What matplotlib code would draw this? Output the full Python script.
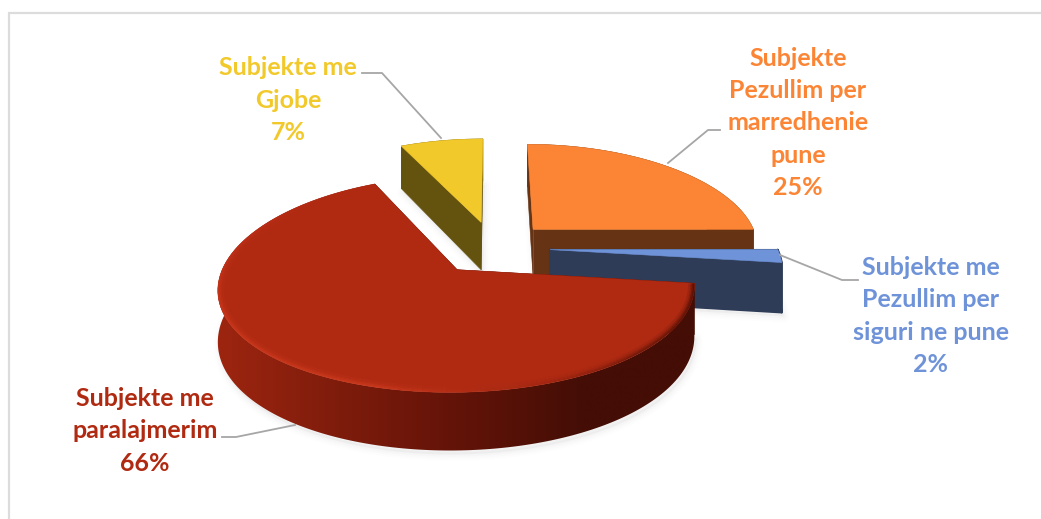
import numpy as np
import matplotlib
matplotlib.use("Agg")
import matplotlib.pyplot as plt
from matplotlib.collections import LineCollection
from matplotlib.colors import to_rgb, LinearSegmentedColormap
from matplotlib.patches import Polygon

# ---- data ----
names = ["Subjekte\nPezullim per\nmarredhenie\npune",
         "Subjekte me\nPezullim per\nsiguri ne pune",
         "Subjekte me\nparalajmerim",
         "Subjekte me\nGjobe"]
values = [25, 2, 66, 7]

# ---- style ----
explode = [0.27, 0.26, 0.26, 0.27]
nudge_x = [-4.0, -4.0, -2.0, -1.0]
top_cols = ["#fb8535", "#6f93d8", "#b02a12", "#f2c92b"]
wall_cols = ["#663314", "#2e3c58", "#5a1208", "#64520f"]
label_cols = ["#fb8535", "#6f93d8", "#b02a12", "#f2c92b"]
label_pos = [(798, 123), (931, 316), (145, 431), (288, 100)]
leaders = [[(720, 130), (708, 130), (668, 163)],
           [(858, 280), (842, 280), (780, 255)],
           [(222, 437), (236, 437), (295, 425)],
           [(362, 73), (382, 73), (441, 138)]]
draw_order = [3, 0, 1, 2]
CX, CY, A, B, KX, KY, D = 495.0, 248.0, 227.0, 100.5, 0.16, 0.13, 49.0


def project(u, v, z=0.0):
    wx = 1 + KX * v
    wy = 1 + KY * v
    return CX + A * u / wx, CY - B * v / wy + D * z / wy


def rim(i, a0, a1, n=240):
    t = np.radians(np.linspace(a0, a1, n))
    mid = np.radians((a0 + a1) / 2)
    uo, vo = explode[i] * np.sin(mid), explode[i] * np.cos(mid)
    return uo + np.sin(t), vo + np.cos(t), uo, vo, np.degrees(t)


fig = plt.figure(figsize=(10.41, 5.19), dpi=100, facecolor="white")
ax = fig.add_axes([0, 0, 1, 1])
plt.rcParams["font.family"] = ["Lato", "DejaVu Sans"]

# chart frame
ax.plot([8.5, 8.5, 1041], [519, 12.5, 12.5], color="#dcdcdc", lw=1.6, solid_joinstyle="miter")

shares = np.array(values, float) / sum(values) * 360
ends = np.cumsum(shares)
starts = ends - shares
wall_map = LinearSegmentedColormap.from_list("wall", [(0.0, "#a02610"), (0.27, "#7e1c0c"), (0.48, "#661409"),
                                                      (0.62, "#561107"), (0.76, "#440e06"), (1.0, "#440d05")])

for order, i in enumerate(draw_order):
    a0, a1 = starts[i], ends[i]
    us, vs, uo, vo, deg = rim(i, a0, a1)
    tx, ty = project(us, vs, 0)
    bx, by = project(us, vs, 1)
    ax_, ay_ = project(uo, vo, 0)
    ex_, ey_ = project(uo, vo, 1)
    tx, bx, ax_, ex_ = tx + nudge_x[i], bx + nudge_x[i], ax_ + nudge_x[i], ex_ + nudge_x[i]

    # soft drop shadow
    sx, sy = np.r_[ex_, bx], np.r_[ey_, by]
    for lw, al in [(9, .012), (6, .02), (3, .03)]:
        ax.fill(sx + 2, sy + 4, facecolor="#909090", edgecolor="#909090", alpha=al, lw=lw,
                joinstyle="round", zorder=1)

    z = 2 + order
    wall_poly = np.c_[np.r_[tx, bx[::-1]], np.r_[ty, by[::-1]]]
    # rim wall
    if i == 2:
        grad = np.linspace(0, 1, 512)[None, :]
        im = ax.imshow(grad, extent=(205, 700, 519, 0), aspect="auto", cmap=wall_map, vmin=0, vmax=1, zorder=z,
                       interpolation="bilinear")
        im.set_clip_path(Polygon(wall_poly, closed=True, transform=ax.transData))
    else:
        ax.fill(wall_poly[:, 0], wall_poly[:, 1], color=wall_cols[i], lw=1.5 if i == 1 else 0.4,
                joinstyle="round", zorder=z)
    # cut faces
    for k in (0, -1):
        ax.fill([ax_, tx[k], bx[k], ex_], [ay_, ty[k], by[k], ey_],
                color=wall_cols[i] if i != 2 else "#440d05", lw=1.5 if i == 1 else 0.4, joinstyle="round", zorder=z)
    # top face
    top = ax.fill(np.r_[ax_, tx], np.r_[ay_, ty], color=top_cols[i], lw=0.4, zorder=z + 0.1)[0]
    # bevel along the rim, kept inside the top face
    if i == 2:
        segs = np.stack([np.c_[tx[:-1], ty[:-1]], np.c_[tx[1:], ty[1:]]], axis=1)
        mid = (deg[:-1] + deg[1:]) / 2
        d = [97, 112, 135, 165, 195, 250, 300, 335]
        rgb = np.array([to_rgb(c) for c in ["#3c0a04", "#4a0e06", "#5e1409", "#a02812", "#d23e22", "#d03a1e", "#c2321a", "#b02a12"]])
        alpha = np.interp(mid, d, [1, 1, .95, .5, .9, .95, .5, 0])
        base = np.c_[[np.interp(mid, d, rgb[:, c]) for c in range(3)]].T
        for lw, a in [(9, .14), (6, .2), (4, .35), (2, .45)]:
            lc = LineCollection(segs, colors=np.c_[base, alpha * a], linewidths=lw, capstyle="butt", zorder=z + 0.2)
            ax.add_collection(lc)
            lc.set_clip_path(top)

# leader lines
for pts in leaders:
    xs, ys = zip(*pts)
    ax.plot(xs, ys, color="#a6a6a6", lw=1.3, zorder=20)

# labels
for name, val, col, (x, y) in zip(names, values, label_cols, label_pos):
    ax.text(x, y, f"{name}\n{val}%", color=col, ha="center", va="center", fontsize=18,
            fontweight="bold", linespacing=1.49, zorder=21)

ax.set_xlim(0, 1041)
ax.set_ylim(519, 0)
ax.axis("off")
fig.savefig("out.png", dpi=100, facecolor="white")
